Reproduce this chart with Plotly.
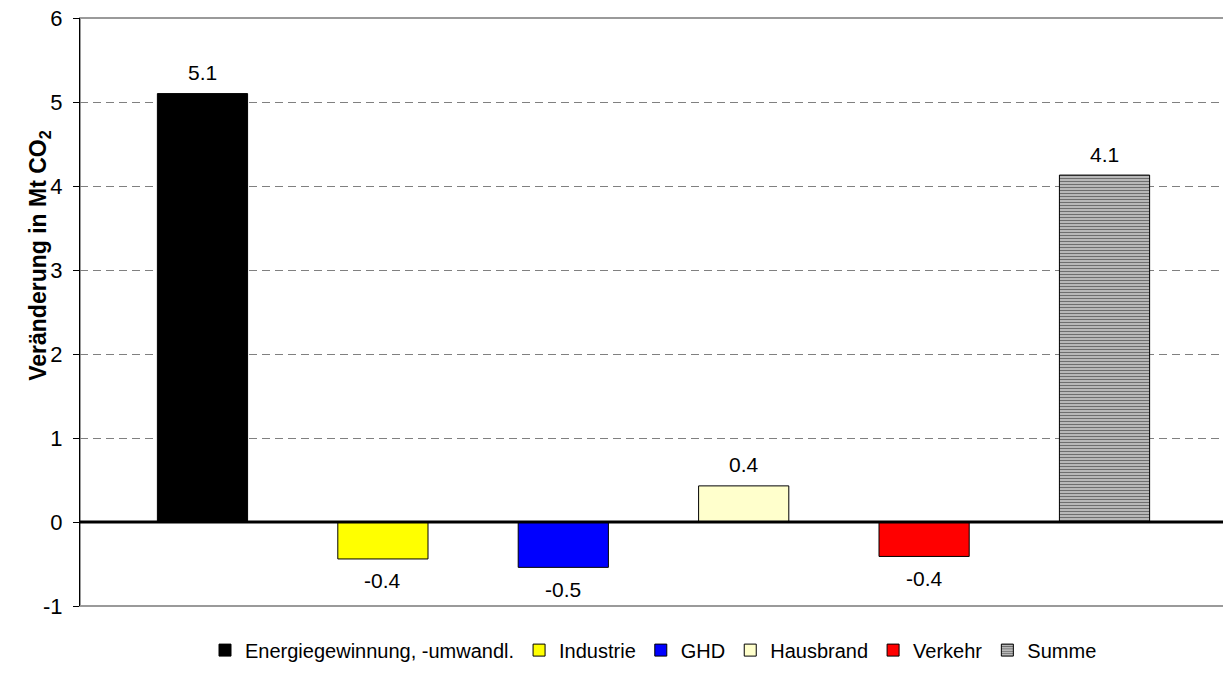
import plotly.graph_objects as go

# ---- data ----
series_names = ["Energiegewinnung, -umwandl.", "Industrie", "GHD", "Hausbrand", "Verkehr", "Summe"]
series_values = [5.1, -0.44, -0.54, 0.43, -0.41, 4.13]
series_colors = ["#000000", "#FFFF00", "#0000FF", "#FFFFCC", "#FF0000", "#B0B0B0"]
y_tick_vals = [-1, 0, 1, 2, 3, 4, 5, 6]
y_tick_text = ["-1", "0", "1", "2", "3", "4", "5", "6"]
y_title = "Veränderung in Mt CO<sub>2</sub>"

FONT = "Liberation Sans, Arial, sans-serif"
BAR_W = 0.5
NBSP = "\u00a0"

fig = go.Figure()
annotations = []
for i, (name, val, col) in enumerate(zip(series_names, series_values, series_colors)):
    marker = dict(color=col, line=dict(color="#000000", width=1))
    if name == "Summe":
        marker["pattern"] = dict(shape="-", fgcolor="#6E6E6E", bgcolor="#C8C8C8",
                                 size=3, solidity=0.45, fillmode="replace")
    fig.add_trace(go.Bar(x=[i], y=[val], width=BAR_W, name=name, marker=marker))
    annotations.append(dict(
        x=i, y=val, xref="x", yref="y", text=f"{val:.1f}", showarrow=False,
        xanchor="center", yanchor="middle", yshift=21 if val >= 0 else -22,
        font=dict(family=FONT, size=21, color="#000000")))

annotations.append(dict(
    x=-0.035, y=0.597, xref="paper", yref="paper", text=y_title, showarrow=False,
    textangle=-90, xanchor="center", yanchor="middle",
    font=dict(family=FONT, size=23, color="#000000", weight="bold")))

n = len(series_names)
pad = 0.679

fig.update_layout(
    width=1223, height=672,
    paper_bgcolor="#FFFFFF", plot_bgcolor="#FFFFFF",
    margin=dict(l=72, r=4, t=10, b=74, autoexpand=False),
    barmode="overlay",
    font=dict(family=FONT, color="#000000"),
    showlegend=True,
    legend=dict(orientation="h", x=0.5, xanchor="center", y=-0.075, yanchor="middle",
                font=dict(family=FONT, size=20, color="#000000"),
                itemwidth=30, tracegroupgap=0, traceorder="normal"),
    xaxis=dict(range=[-pad, n - 1 + pad], showticklabels=False, ticks="",
               showgrid=False, zeroline=False, showline=False, fixedrange=True,
               automargin=False),
    yaxis=dict(range=[-1, 6], tickvals=y_tick_vals,
               ticktext=[t + NBSP for t in y_tick_text],
               ticklabeloverflow="allow", automargin=False,
               ticks="outside", ticklen=6, tickcolor="#000000", tickwidth=1,
               tickfont=dict(family=FONT, size=22, color="#000000"),
               showgrid=True, gridcolor="#808080", gridwidth=1, griddash="8px,5px",
               zeroline=False,
               showline=True, linecolor="#000000", linewidth=1),
    annotations=annotations,
    shapes=[
        dict(type="rect", xref="paper", yref="paper", x0=0, x1=1, y0=0, y1=1,
             line=dict(color="#9A9A9A", width=2), layer="below"),
        dict(type="line", xref="paper", yref="y", x0=0, x1=1.003, y0=0, y1=0,
             line=dict(color="#000000", width=3), layer="above"),
    ],
)

fig.write_html("out.html")
